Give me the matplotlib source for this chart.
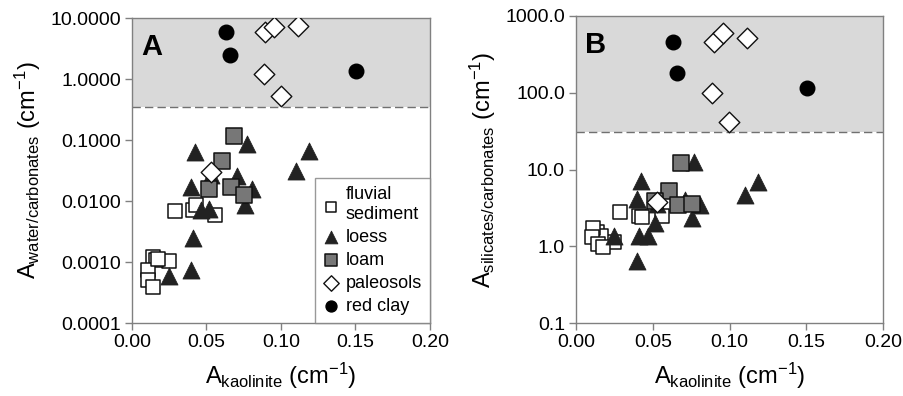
import numpy as np
import matplotlib
matplotlib.use('Agg')
import matplotlib.pyplot as plt
from matplotlib.ticker import FixedLocator, FormatStrFormatter

plt.rcParams['font.family'] = ['Liberation Sans', 'DejaVu Sans']
plt.rcParams['mathtext.default'] = 'regular'

# fluvial sediment
fluv_x = [0.0288, 0.0407, 0.0428, 0.0557, 0.0249, 0.0139, 0.0160, 0.0110, 0.0107, 0.0142, 0.0176]
fluv_a = [0.0069, 0.0072, 0.0087, 0.0058, 0.00103, 0.00119, 0.00109, 0.00075, 0.00051, 0.00039, 0.00112]
fluv_b = [2.83, 2.51, 2.39, 2.46, 1.13, 1.52, 1.35, 1.74, 1.31, 1.07, 0.98]

# loess
loess_x = [0.0246, 0.0395, 0.0410, 0.0425, 0.0397, 0.0466, 0.0515, 0.0530,
           0.0707, 0.0770, 0.0757, 0.0806, 0.1104, 0.1188]
loess_a = [0.00058, 0.00073, 0.00247, 0.0626, 0.0170, 0.0072, 0.0075, 0.027,
           0.0253, 0.0869, 0.0087, 0.0157, 0.0306, 0.065]
loess_b = [1.35, 0.64, 1.38, 7.19, 4.15, 1.35, 2.02, 3.6,
           4.06, 12.6, 2.35, 3.5, 4.72, 6.8]

# loam
loam_x = [0.0685, 0.0604, 0.0517, 0.0663, 0.0753]
loam_a = [0.117, 0.045, 0.0157, 0.0167, 0.0125]
loam_b = [12.2, 5.2, 3.86, 3.5, 3.57]

# paleosols
paleo_x = [0.0896, 0.0956, 0.1116, 0.0887, 0.0997, 0.0528]
paleo_a = [5.9, 7.1, 7.3, 1.22, 0.53, 0.0294]
paleo_b = [457, 606, 521, 98, 41.4, 3.75]

# red clay
clay_x = [0.063, 0.066, 0.1505]
clay_a = [6.0, 2.44, 1.37]
clay_b = [462, 180, 116]

# thresholds (dashed lines)
thr_a = 0.35
thr_b = 31.0

grey = '#808080'


def draw_panel(ax, ya, ylim, yticks, fmt, ylabel, letter, thr):
    fy, ly, lmy, py, cy = ya
    ax.set_yscale('log')
    ax.axhspan(thr, ylim[1], color='#d9d9d9', zorder=0, lw=0)
    ax.axhline(thr, color='#707070', lw=1, ls=(0, (6, 3)), zorder=1)

    ax.scatter(fluv_x, fy, marker='s', s=110, facecolor='white',
               edgecolor='#111111', lw=1.1, zorder=3, label='fluvial\nsediment')
    ax.scatter(loess_x, ly, marker='^', s=150, facecolor='#222222',
               edgecolor='#222222', lw=0.6, zorder=4, label='loess')
    ax.scatter(loam_x, lmy, marker='s', s=130, facecolor='#777777',
               edgecolor='#111111', lw=1.1, zorder=5, label='loam')
    ax.scatter(paleo_x, py, marker='D', s=110, facecolor='white',
               edgecolor='#111111', lw=1.0, zorder=5, label='paleosols')
    ax.scatter(clay_x, cy, marker='o', s=110, facecolor='black',
               edgecolor='black', zorder=5, label='red clay')

    ax.set_xlim(0, 0.2)
    ax.set_ylim(*ylim)
    ax.xaxis.set_major_locator(FixedLocator([0, 0.05, 0.1, 0.15, 0.2]))
    ax.xaxis.set_major_formatter(FormatStrFormatter('%.2f'))
    ax.yaxis.set_major_locator(FixedLocator(yticks))
    ax.yaxis.set_minor_locator(FixedLocator([]))
    ax.yaxis.set_major_formatter(FormatStrFormatter(fmt))
    ax.tick_params(direction='out', length=5, width=1, color=grey,
                   labelsize=14, pad=3)
    for sp in ax.spines.values():
        sp.set_color(grey)
        sp.set_linewidth(1)

    ax.set_xlabel(r'A$_{kaolinite}$ (cm$^{-1}$)', fontsize=17, labelpad=7)
    ax.set_ylabel(ylabel, fontsize=17, labelpad=5)
    ax.text(0.03, 0.95, letter, transform=ax.transAxes, fontsize=21,
            fontweight='bold', va='top', ha='left', zorder=6)


fig = plt.figure(figsize=(9.04, 3.96), dpi=100)
ax1 = fig.add_axes([0.146, 0.1843, 0.3296, 0.770])
ax2 = fig.add_axes([0.6372, 0.1843, 0.3396, 0.7753])

draw_panel(ax1, (fluv_a, loess_a, loam_a, paleo_a, clay_a), (1e-4, 10),
           [1e-4, 1e-3, 1e-2, 1e-1, 1, 10], '%.4f',
           r'A$_{water/carbonates}$ (cm$^{-1}$)', 'A', thr_a)
draw_panel(ax2, (fluv_b, loess_b, loam_b, paleo_b, clay_b), (0.1, 1000),
           [0.1, 1, 10, 100, 1000], '%.1f',
           r'A$_{silicates/carbonates}$ (cm$^{-1}$)', 'B', thr_b)

leg = ax1.legend(loc='lower right', bbox_to_anchor=(1.0, 0.0),
                 borderaxespad=0, fontsize=13, frameon=True, fancybox=False,
                 handletextpad=0.35, handlelength=0.9, labelspacing=0.33,
                 borderpad=0.45, markerscale=0.75)
leg.get_frame().set_edgecolor(grey)
leg.get_frame().set_linewidth(1)
leg.set_zorder(10)

fig.savefig('out.png', dpi=100)
